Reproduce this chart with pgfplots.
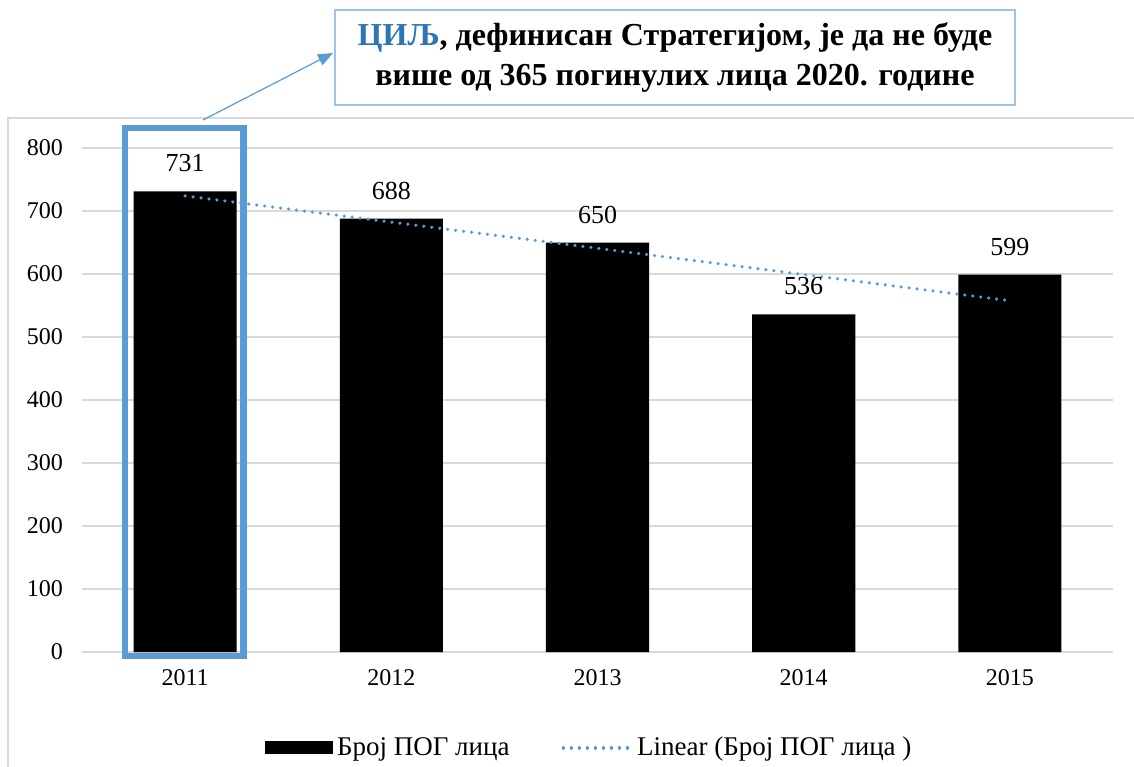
\documentclass[border=0pt]{standalone}
\usepackage{pgfplots}
\pgfplotsset{compat=1.18}
\usepackage{fontspec}
\setmainfont{Liberation Serif}
\usetikzlibrary{arrows.meta}
\definecolor{gridgray}{HTML}{D9D9D9}
\definecolor{hlblue}{HTML}{5B9BD5}
\definecolor{boxblue}{HTML}{9DC3E6}
\definecolor{titleblue}{HTML}{2E75B6}
\begin{document}
\begin{tikzpicture}
\path[use as bounding box] (0,0) rectangle (567bp,-383.5bp);
% outer chart frame
\begin{scope}[x=0.5bp,y=-0.5bp]
\draw[gridgray,line width=1bp] (8,800) -- (8,118) -- (1160,118);
\end{scope}
\begin{axis}[
  at={(41bp,-326bp)}, anchor=south west,
  scale only axis, width=515.5bp, height=252bp,
  xmin=-0.5, xmax=4.5, ymin=0, ymax=800,
  ytick={0,100,...,800},
  xtick={0,1,2,3,4},
  xticklabels={2011,2012,2013,2014,2015},
  ymajorgrids, grid style={gridgray,line width=0.75bp},
  axis line style={draw=none},
  major tick length=0pt,
  tick style={draw=none},
  /pgf/number format/assume math mode=true,
  ticklabel style={font=\fontsize{12bp}{14bp}\selectfont},
  yticklabel style={xshift=-6bp},
  xticklabel style={yshift=-5bp},
  clip=false,
  legend style={at={(0.493,-0.19)}, anchor=center, draw=none, fill=none,
    legend columns=2, font=\fontsize{13.5bp}{16bp}\selectfont,
    /tikz/every even column/.append style={column sep=24bp}},
]
\addplot[ybar, bar width=0.5, fill=black, draw=none,
  nodes near coords,
  nodes near coords style={anchor=center, yshift=14bp, text=black, font=\fontsize{13bp}{15bp}\selectfont},
  legend image code/.code={\fill[black] (0bp,-3.25bp) rectangle (34bp,3.25bp);}]
  coordinates {(0,731) (1,688) (2,650) (3,536) (4,599)};
\addlegendentry{Број ПОГ лица}
\addplot[hlblue, line width=1.75bp, line cap=round, dash pattern=on 0.01bp off 4bp, mark=none,
  legend image code/.code={\draw[hlblue, line width=1.75bp, line cap=round, dash pattern=on 0.01bp off 4bp] (0bp,0bp) -- (34bp,0bp);}]
  coordinates {(0,724.0) (4,557.6)};
\addlegendentry{Linear (Број ПОГ лица )}
\end{axis}
\begin{scope}[x=0.5bp,y=-0.5bp]
% highlight rectangle
\draw[hlblue, line width=3.25bp] (125,128) rectangle (243.5,656);
% arrow
\draw[hlblue, line width=0.6bp, -{Triangle[length=7.5bp,width=6bp]}] (203,120) -- (333,53);
% callout
\node[draw=boxblue, line width=1bp, fill=white, minimum width=340bp, minimum height=47.5bp,
  align=center, inner sep=0pt, font=\bfseries\fontsize{16bp}{20bp}\selectfont]
  at (675,57.5) {{\color{titleblue}ЦИЉ}, дефинисан Стратегијом, је да не буде\\више од 365 погинулих лица 2020. године};
\end{scope}
\end{tikzpicture}
\end{document}
